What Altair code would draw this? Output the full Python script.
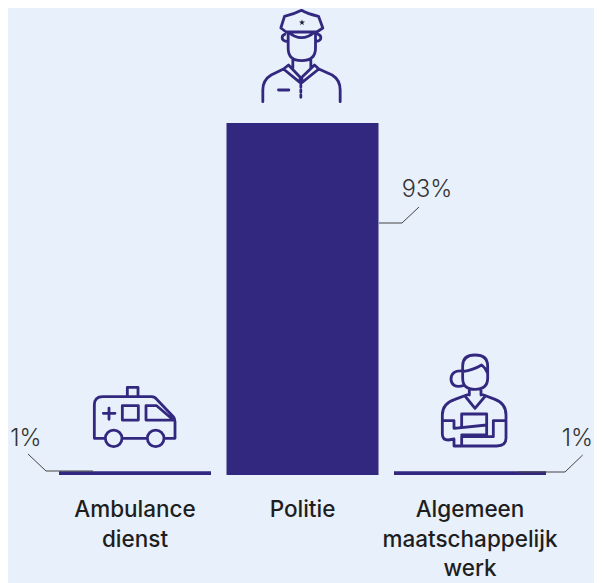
import re
import altair as alt
import pandas as pd

categories = ["Ambulance\ndienst", "Politie", "Algemeen\nmaatschappelijk\nwerk"]
values = [1, 93, 1]
value_labels = ["1%", "93%", "1%"]

NAVY = "#32287F"
BG = "#E8F0FB"
INK = "#333333"
FONT = "Inter"


def shift(path, ox, oy):
    """Move a path drawn on a 3x grid so that it sits around its own origin."""
    nums = iter(range(10**6))

    def repl(m):
        i = next(nums)
        v = float(m.group(0)) - (ox if i % 2 == 0 else oy)
        return f"{v:.1f}"

    return re.sub(r"-?\d+(\.\d+)?", repl, path)


def ring(cx, cy, r):
    k = 0.5523 * r
    return (
        f"M{cx - r} {cy} C{cx - r} {cy - k} {cx - k} {cy - r} {cx} {cy - r} "
        f"C{cx + k} {cy - r} {cx + r} {cy - k} {cx + r} {cy} "
        f"C{cx + r} {cy + k} {cx + k} {cy + r} {cx} {cy + r} "
        f"C{cx - k} {cy + r} {cx - r} {cy + k} {cx - r} {cy} Z "
    )


police = (
    "M186 31 Q205 42 237 49 L250 84 L232 96 L140 96 L124 84 L135 49 Q165 42 186 31 Z "
    "M146 96 Q186 130 226 96 "
    "M146 100 L146 145 Q146 182 186 182 Q228 182 228 145 L228 100 "
    "M136 103 Q128 106 128 113 Q128 122 142 124 M236 103 Q244 106 244 113 Q244 122 230 124 "
    "M160 175 L160 205 M214 175 L214 205 "
    "M132 207 L147 195 L182 232 L182 248 Z M238 207 L225 195 L187 232 L187 248 Z "
    "M70 305 L70 270 Q70 240 95 225 L132 207 M302 305 L302 270 Q302 240 278 225 L238 207 "
    "M117 270 L148 270 M184 255 L184 262 M184 270 L184 277 M184 285 L184 292 "
)
ambulance = (
    "M316 205 L283 205 L283 105 Q283 80 308 80 L455 80 Q465 80 472 90 L520 140 Q525 146 525 155 "
    "L525 205 L492 205 M366 205 L442 205 "
    + ring(341, 205, 25) + ring(467, 205, 25) +
    "M382 80 L382 52 L414 52 L414 80 M310 130 L345 130 M327 114 L327 148 "
    "M367 107 L415 107 L415 150 L367 150 Z M438 107 L470 107 L520 150 L438 150 Z "
)
worker = (
    "M248 100 L248 78 Q248 45 285 45 Q323 45 323 78 L323 115 Q323 148 285 148 Q248 148 248 115 L248 95 "
    "Q280 90 305 75 Q318 85 323 100 "
    "M248 93 Q213 90 213 118 Q215 145 250 137 "
    "M268 145 L268 165 M303 145 L303 165 M255 168 L285 205 L316 168 "
    "M268 162 L225 178 Q187 190 187 225 L187 282 Q187 300 205 300 L222 297 "
    "M303 162 L345 178 Q378 190 378 225 L378 295 Q378 318 350 318 L222 318 L222 297 "
    "M187 242 L222 242 L222 265 L320 255 M245 262 L245 222 L320 222 L320 285 L245 285 "
    "M340 242 L378 242 M340 242 L340 290 L245 290 L245 318 "
)

icons = [
    (categories[0], shift(ambulance, 405, 140), 416.7 - 8),
    (categories[1], shift(police, 189, 165), 55 - 8),
    (categories[2], shift(worker, 270, 180), 400 - 8),
]

W, H = 586, 575
x_scale = alt.Scale(domain=categories, range=[51, 538], paddingInner=0.0925, paddingOuter=0)
y_scale = alt.Scale(domain=[0, 93], range=[467, 115])
x_enc = alt.X("cat:N", scale=x_scale, axis=None, sort=None)

df = pd.DataFrame({"cat": categories, "value": values})

bars = alt.Chart(df).mark_bar(color=NAVY, cornerRadius=0).encode(
    x=x_enc,
    y=alt.Y("value:Q", scale=y_scale, axis=None),
    y2=alt.datum(0),
)

names = alt.Chart(df).mark_text(
    font=FONT, fontSize=22.5, fontWeight=500, color="#1E1E1E", lineBreak="\n", lineHeight=29.5,
    baseline="top", align="center",
).encode(x=x_enc, y=alt.value(491), text="cat:N")

layers = [bars, names]

for name, path, yy in icons:
    layers.append(
        alt.Chart(pd.DataFrame({"cat": [name]})).mark_point(
            shape=path, size=4 / 9, filled=False, stroke=NAVY, strokeWidth=2.8, opacity=1,
            strokeJoin="round", strokeCap="round",
        ).encode(x=x_enc, y=alt.value(yy))
    )

layers.append(
    alt.Chart(pd.DataFrame({"cat": [categories[1]]})).mark_point(
        shape="M0 -1 L0.25 -0.3 L1 -0.3 L0.4 0.15 L0.6 0.9 L0 0.45 L-0.6 0.9 L-0.4 0.15 L-1 -0.3 L-0.25 -0.3 Z",
        size=36, filled=True, color="#1E1E3A", opacity=1,
    ).encode(x=alt.value(294), y=alt.value(14.5))
)

# Leader lines for the value labels: (x, y, x2, y2) in chart pixels
leaders = [
    (20, 446, 38, 463), (38, 463, 85, 463),
    (574.7, 447, 557, 464), (557, 464, 510, 464),
    (411, 199, 394, 215), (394, 215, 371, 215),
]
for a, b, c, d in leaders:
    layers.append(
        alt.Chart(pd.DataFrame({"k": [0]})).mark_rule(color="#444444", strokeWidth=1).encode(
            x=alt.value(a), x2=alt.value(c), y=alt.value(b), y2=alt.value(d)
        )
    )

# Value labels
for label, xx, yy, al in [
    (value_labels[0], 18, 431, "center"),
    (value_labels[1], 419, 182, "center"),
    (value_labels[2], 585, 431, "right"),
]:
    layers.append(
        alt.Chart(pd.DataFrame({"t": [label]})).mark_text(
            font=FONT, fontSize=23.5, fontWeight=300, color=INK, align=al, baseline="middle",
        ).encode(x=alt.value(xx), y=alt.value(yy), text="t:N")
    )

chart = alt.layer(*layers).properties(
    width=W, height=H, padding=0, background=BG,
    autosize=alt.AutoSizeParams(type="none"),
).configure_view(stroke=None)

chart.save("out.html", embed_options={"renderer": "svg", "actions": False})
